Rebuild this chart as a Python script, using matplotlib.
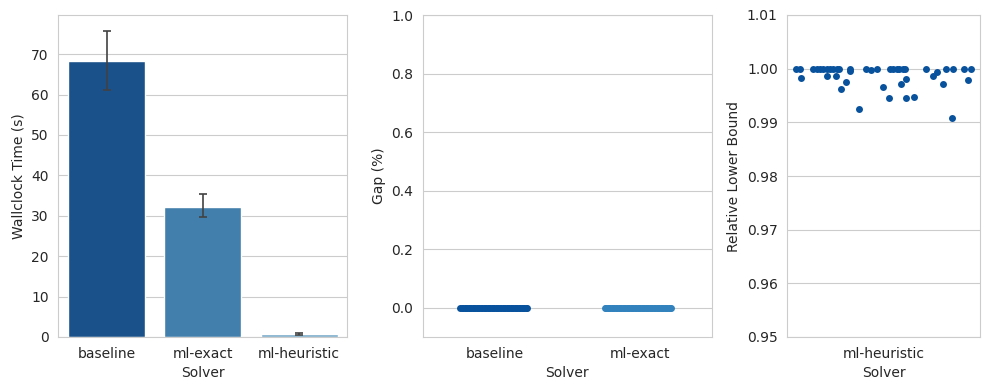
import matplotlib
matplotlib.use("Agg")
import matplotlib.pyplot as plt
import numpy as np
import seaborn as sns

# Solvers and palette
solvers = ["baseline", "ml-exact", "ml-heuristic"]
palette = ["#08519c", "#3182bd", "#6baed6"]

# Wallclock time: mean and confidence interval
time_mean = [68.3, 32.3, 0.7]
time_ci_low = [61.1, 29.7, 0.5]
time_ci_high = [75.7, 35.3, 1.05]

# Gap (%) for exact solvers: all instances solved to optimality
gap_baseline = [0.0] * 50
gap_ml_exact = [0.0] * 50

# Relative lower bound for ml-heuristic, with the strip jitter seen in the chart
heur_lb = [1.0, 1.0, 0.9982, 1.0, 1.0, 1.0, 1.0, 1.0, 1.0, 1.0, 1.0, 1.0,
           0.9987, 0.9987, 0.9963, 0.9976, 1.0, 0.9995, 0.9925, 1.0, 0.9997,
           1.0, 0.9966, 0.9946, 1.0, 1.0, 1.0, 1.0, 1.0, 1.0, 0.9971, 0.9981,
           0.9945, 0.9948, 1.0, 0.9986, 0.9994, 0.9971, 1.0, 0.9909, 1.0,
           1.0, 0.9978, 1.0]
heur_jitter = [-0.455, -0.434, -0.431, -0.366, -0.345, -0.329, -0.314, -0.293,
               -0.279, -0.263, -0.242, -0.232, -0.296, -0.249, -0.222, -0.196,
               -0.175, -0.175, -0.128, -0.092, -0.066, -0.037, -0.004, 0.025,
               0.032, 0.049, 0.067, 0.080, 0.098, 0.110, 0.088, 0.115, 0.115,
               0.156, 0.217, 0.256, 0.277, 0.308, 0.321, 0.352, 0.359, 0.417,
               0.436, 0.455]

sns.set_style("whitegrid")

fig = plt.figure(figsize=(9.9, 3.9), dpi=100)
gs = fig.add_gridspec(1, 3, width_ratios=[3, 3, 2], left=0.059, right=0.99,
                      top=1 - 15 / 390, bottom=1 - 337 / 390, wspace=0.294)
ax1 = fig.add_subplot(gs[0])
ax2 = fig.add_subplot(gs[1])
ax3 = fig.add_subplot(gs[2])

# Left: wallclock time bars
x = np.arange(len(solvers))
bar_colors = [sns.desaturate(c, 0.75) for c in palette]
ax1.bar(x, time_mean, width=0.8, color=bar_colors, zorder=2)
yerr = [np.array(time_mean) - np.array(time_ci_low),
        np.array(time_ci_high) - np.array(time_mean)]
ax1.errorbar(x, time_mean, yerr=yerr, fmt="none", ecolor=".26",
             elinewidth=1.2, capsize=3, capthick=1.2, zorder=3)
ax1.set_xticks(x)
ax1.set_xticklabels(solvers)
ax1.set_xlim(-0.5, 2.5)
ax1.set_ylim(0, 79.7)
ax1.set_yticks(range(0, 80, 10))
ax1.set_xlabel("Solver")
ax1.set_ylabel("Wallclock Time (s)")

# Middle: gap strip plot
for i, vals in enumerate([gap_baseline, gap_ml_exact]):
    jit = np.linspace(-0.24, 0.22, len(vals))
    ax2.scatter(i + jit, vals, s=25, color=palette[i], linewidth=0, zorder=3)
ax2.set_xticks([0, 1])
ax2.set_xticklabels(solvers[:2])
ax2.set_xlim(-0.5, 1.5)
ax2.set_ylim(-0.1, 1.0)
ax2.set_yticks(np.arange(0, 1.01, 0.2))
ax2.set_xlabel("Solver")
ax2.set_ylabel("Gap (%)")
ax2.xaxis.grid(False)

# Right: relative lower bound strip plot
ax3.scatter(np.array(heur_jitter), heur_lb, s=25, color=palette[0],
            linewidth=0, zorder=3)
ax3.set_xticks([0])
ax3.set_xticklabels(solvers[2:])
ax3.set_xlim(-0.5, 0.5)
ax3.set_ylim(0.95, 1.01)
ax3.set_yticks(np.arange(0.95, 1.0101, 0.01))
ax3.yaxis.set_major_formatter(matplotlib.ticker.FormatStrFormatter("%.2f"))
ax3.set_xlabel("Solver")
ax3.set_ylabel("Relative Lower Bound")
ax3.xaxis.grid(False)

ax1.xaxis.grid(False)

fig.savefig("out.png", dpi=100)
